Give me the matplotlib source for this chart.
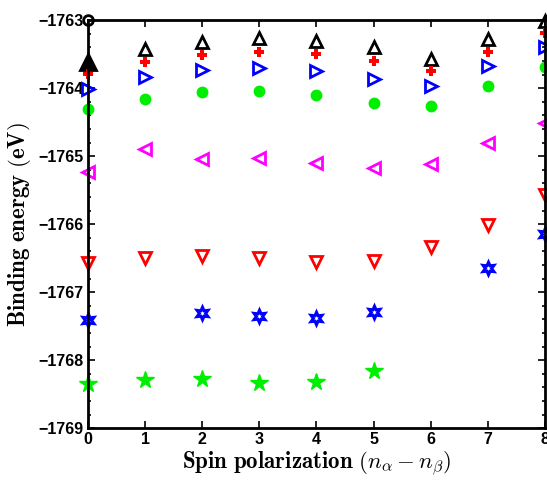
import numpy as np
import matplotlib.pyplot as plt
from matplotlib.markers import MarkerStyle
from matplotlib.ticker import MultipleLocator

plt.rcParams['mathtext.fontset'] = 'cm'

# spin polarization values
spin = np.arange(9)

# binding energies (eV)
e_circle0 = [-1763.00]
e_tri0 = [-1763.62]
e_tri_up = [-1763.43, -1763.32, -1763.26, -1763.31, -1763.40, -1763.57, -1763.28, -1763.01]
e_plus = [-1763.79, -1763.62, -1763.51, -1763.47, -1763.50, -1763.60, -1763.75, -1763.47, -1763.19]
e_tri_right = [-1764.01, -1763.84, -1763.74, -1763.71, -1763.75, -1763.87, -1763.97, -1763.67, -1763.40]
e_dot = [-1764.31, -1764.16, -1764.06, -1764.04, -1764.10, -1764.22, -1764.26, -1763.97, -1763.69]
e_tri_left = [-1765.24, -1764.90, -1765.04, -1765.03, -1765.10, -1765.18, -1765.12, -1764.81, -1764.51]
e_tri_down = [-1766.57, -1766.50, -1766.47, -1766.50, -1766.56, -1766.54, -1766.34, -1766.01, -1765.57]
spin_hex = [0, 2, 3, 4, 5, 7, 8]
e_hex = [-1767.41, -1767.31, -1767.35, -1767.38, -1767.29, -1766.65, -1766.15]
spin_star = [0, 1, 2, 3, 4, 5]
e_star = [-1768.35, -1768.29, -1768.28, -1768.33, -1768.32, -1768.16]

fig = plt.figure(figsize=(5.47, 4.8), dpi=100)
ax = fig.add_axes([0.161, 0.108, 0.835, 0.850])

kw = dict(ls='none', clip_on=False, mew=2)
ax.plot(spin[:1], e_circle0, marker='o', mfc='none', mec='k', ms=7, **kw)
ax.plot(spin[:1], e_tri0, marker='^', mfc='k', mec='k', ms=11, **kw)
ax.plot(spin[1:], e_tri_up, marker='^', mfc='none', mec='k', ms=8.5, **kw)
ax.plot(spin, e_plus, marker='P', mfc='r', mec='r', ms=6.5, clip_on=False, ls='none', mew=0)
ax.plot(spin, e_tri_right, marker='>', mfc='none', mec='b', ms=8.5, **kw)
ax.plot(spin, e_dot, marker='o', mfc='#00ee00', mec='#00ee00', ms=6.5, **kw)
ax.plot(spin, e_tri_left, marker='<', mfc='none', mec='#ff00ff', ms=8.5, **kw)
ax.plot(spin, e_tri_down, marker='v', mfc='none', mec='r', ms=8.5, **kw)
hexagram = MarkerStyle((6, 1, 0), joinstyle='miter')
ax.plot(spin_hex, e_hex, marker=hexagram, mfc='none', mec='b', ms=9, ls='none', clip_on=False, mew=2.2)
ax.plot(spin_star, e_star, marker='*', mfc='#00ee00', mec='#00ee00', ms=13, ls='none', clip_on=False, mew=1)

ax.set_xlim(0, 8)
ax.set_ylim(-1769, -1763)
ax.xaxis.set_major_locator(MultipleLocator(1))
ax.yaxis.set_major_locator(MultipleLocator(1))
ax.yaxis.set_minor_locator(MultipleLocator(0.2))
ax.tick_params(which='both', direction='in', top=True, right=True, width=1.2)
ax.tick_params(which='major', length=5, labelsize=11.5, pad=3)
ax.tick_params(which='minor', length=2.5)
ax.yaxis.set_major_formatter(plt.FuncFormatter(lambda v, p: '\u2212%d' % abs(round(v))))
for lbl in ax.get_xticklabels() + ax.get_yticklabels():
    lbl.set_fontweight('bold')
    lbl.set_fontfamily(['Liberation Sans', 'DejaVu Sans'])
for sp in ax.spines.values():
    sp.set_linewidth(2)

ax.set_xlabel(r'$\mathbf{Spin\ polarization}\ (n_\alpha - n_\beta)$', fontsize=16.5, labelpad=1)
ax.set_ylabel(r'$\mathbf{Binding\ energy\ (eV)}$', fontsize=16.5, labelpad=4)

fig.savefig('out.png', dpi=100)
